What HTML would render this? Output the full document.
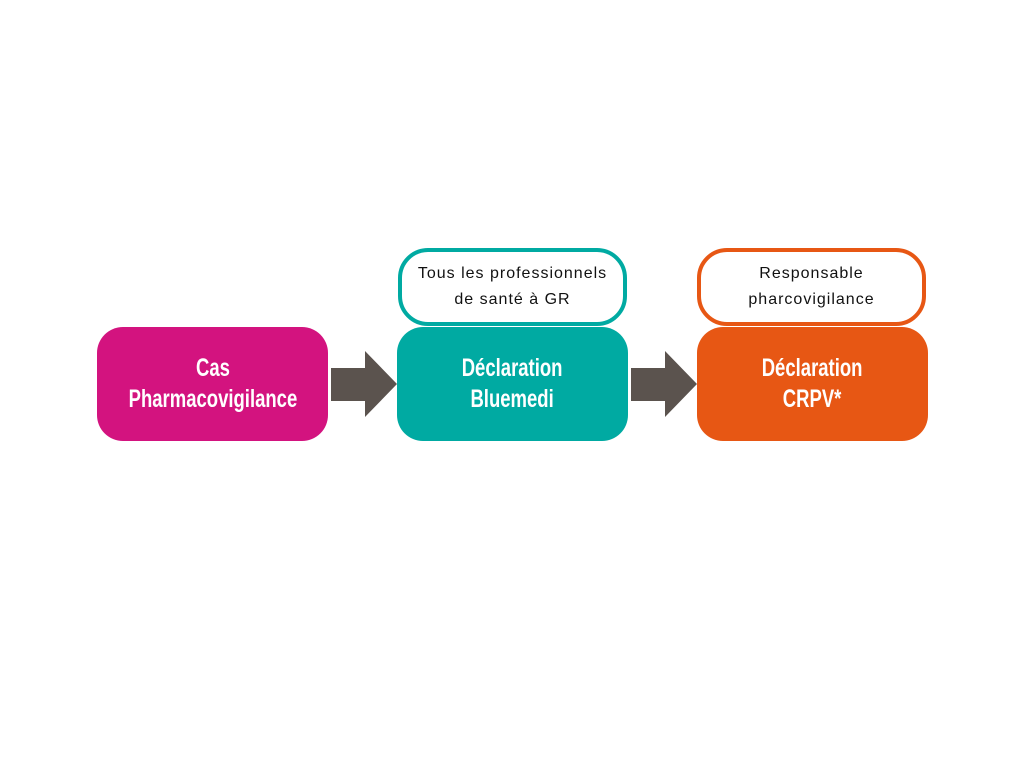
<!DOCTYPE html>
<html><head><style>
body{margin:0;width:1024px;height:768px;background:#fff;position:relative;overflow:hidden}
.b{position:absolute;top:327px;width:231px;height:114px;border-radius:26px;color:#fff;display:flex;align-items:center;justify-content:center;text-align:center;font-family:"Liberation Sans",sans-serif;font-weight:bold;font-size:25px;line-height:31px}
.b span{display:inline-block;transform:scaleX(0.74);white-space:nowrap}
.t{position:absolute;top:248px;width:221px;height:70px;border-radius:30px;background:#fff;display:flex;align-items:center;justify-content:center;text-align:center;font-family:"Liberation Sans",sans-serif;font-size:16px;line-height:26px;color:#111;letter-spacing:1px}
</style></head><body>
<div class="b" style="left:97px;background:#d3137f"><span>Cas<br>Pharmacovigilance</span></div>
<div class="b" style="left:397px;background:#00aaa2"><span>Déclaration<br>Bluemedi</span></div>
<div class="b" style="left:697px;background:#e75714"><span>Déclaration<br>CRPV*</span></div>
<div class="t" style="left:398px;border:4px solid #00aaa2">Tous les professionnels<br>de santé à GR</div>
<div class="t" style="left:697px;border:4px solid #e75714">Responsable<br>pharcovigilance</div>
<svg width="1024" height="768" style="position:absolute;left:0;top:0">
<polygon points="331,368 365,368 365,351 397,384 365,417 365,401 331,401" fill="#5b534e"/>
<polygon points="631,368 665,368 665,351 697,384 665,417 665,401 631,401" fill="#5b534e"/>
</svg>
</body></html>
